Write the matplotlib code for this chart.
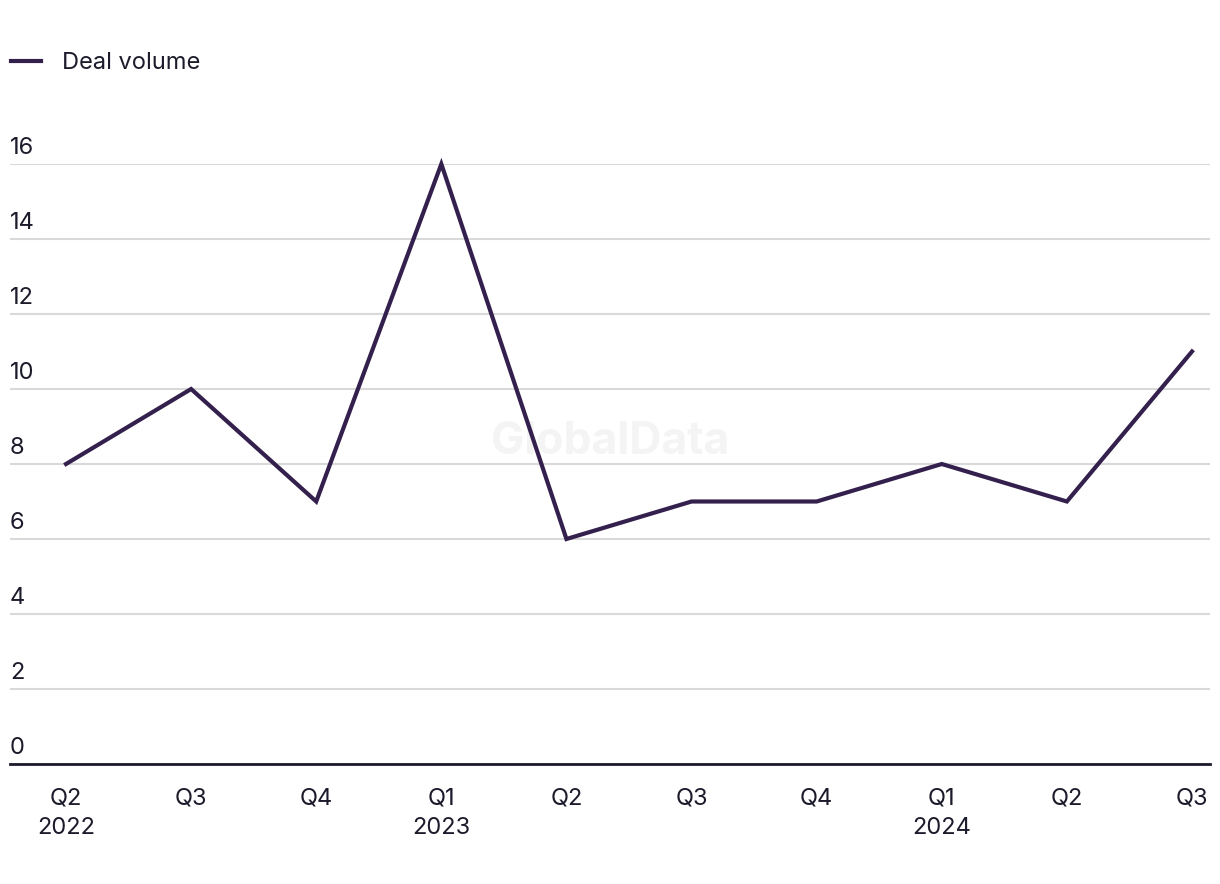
import matplotlib
matplotlib.use("Agg")
import matplotlib.pyplot as plt
import numpy as np

# data
quarters = ["Q2\n2022", "Q3", "Q4", "Q1\n2023", "Q2", "Q3", "Q4", "Q1\n2024", "Q2", "Q3"]
deal_volume = [8, 10, 7, 16, 6, 7, 7, 8, 7, 11]
y_ticks = [0, 2, 4, 6, 8, 10, 12, 14, 16]

line_col = "#33204d"
text_col = "#1b1b2b"
grid_col = "#d9d9d9"

plt.rcParams["font.family"] = ["Inter", "DejaVu Sans"]

W, H = 1220, 884
fig = plt.figure(figsize=(W / 100, H / 100), dpi=100)
ax = fig.add_axes([10 / W, (H - 764) / H, 1200 / W, 600 / H])

x = np.arange(len(quarters))
ax.plot(x, deal_volume, color=line_col, lw=3, solid_joinstyle="miter", clip_on=False, zorder=3,
        label="Deal volume")

step = 125.1
ax.set_xlim(-56 / step, 9 + 18 / step)
ax.set_ylim(0, 16)

for s in ["top", "right", "left"]:
    ax.spines[s].set_visible(False)
ax.spines["bottom"].set_color(text_col)
ax.spines["bottom"].set_linewidth(2)

ax.set_yticks(y_ticks)
ax.set_yticklabels([])
ax.tick_params(axis="y", length=0)
ax.grid(axis="y", color=grid_col, lw=1.5)
ax.set_axisbelow(True)
for v in y_ticks:
    ax.text(0, v + 0.13, str(v), transform=ax.get_yaxis_transform(), ha="left", va="bottom",
            fontsize=17, color=text_col)

ax.set_xticks(x)
ax.set_xticklabels(quarters, fontsize=17, color=text_col, linespacing=1.45)
ax.tick_params(axis="x", length=0, pad=17)

# watermark, behind the line
ax.text(600 / 1200, 1 - (442 - 164) / 600, "GlobalData", transform=ax.transAxes, ha="center",
        va="center", fontsize=32, fontweight="bold", color="#f4f4f4", zorder=1)

leg = fig.legend(loc="center left", bbox_to_anchor=(2 / W, 1 - 63 / H), frameon=False,
                 fontsize=17, handlelength=1.25, handletextpad=0.9, borderaxespad=0)
for t in leg.get_texts():
    t.set_color(text_col)

fig.savefig("out.png", dpi=100)
